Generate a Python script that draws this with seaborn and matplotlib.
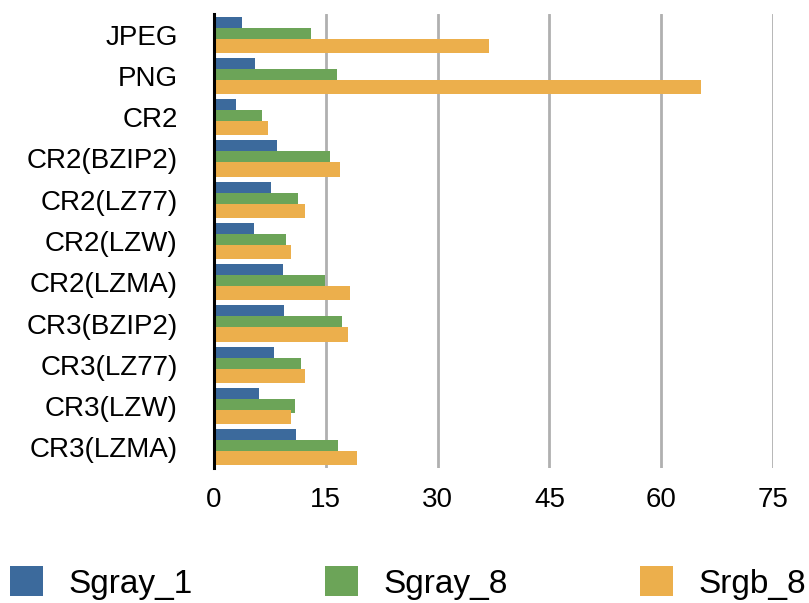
import matplotlib
matplotlib.use("Agg")
import matplotlib.pyplot as plt
import seaborn as sns
import pandas as pd
from matplotlib.patches import Patch

categories = ["JPEG", "PNG", "CR2", "CR2(BZIP2)", "CR2(LZ77)", "CR2(LZW)",
              "CR2(LZMA)", "CR3(BZIP2)", "CR3(LZ77)", "CR3(LZW)", "CR3(LZMA)"]
sgray_1 = [3.7, 5.5, 2.9, 8.4, 7.6, 5.4, 9.3, 9.4, 8.0, 6.1, 11.0]
sgray_8 = [13.0, 16.5, 6.5, 15.6, 11.3, 9.6, 14.9, 17.2, 11.7, 10.9, 16.7]
srgb_8 = [36.9, 65.3, 7.2, 16.9, 12.2, 10.4, 18.3, 18.0, 12.2, 10.4, 19.2]
series_names = ["Sgray_1", "Sgray_8", "Srgb_8"]
colors = ["#3C6A9C", "#6CA458", "#ECAF4C"]
xticks = [0, 15, 30, 45, 60, 75]

rows = []
for name, vals in zip(series_names, [sgray_1, sgray_8, srgb_8]):
    for c, v in zip(categories, vals):
        rows.append({"cat": c, "series": name, "value": v})
df = pd.DataFrame(rows)

sns.set_style("white")
plt.rcParams['font.family'] = ['Liberation Sans', 'DejaVu Sans']
plt.rcParams['text.color'] = 'black'
plt.rcParams['xtick.color'] = 'black'
plt.rcParams['ytick.color'] = 'black'

fig = plt.figure(figsize=(8.09, 6.03), dpi=100)
ax = fig.add_axes([0.2645, 0.2239, 0.691, 0.7529])

sns.barplot(data=df, y="cat", x="value", hue="series", order=categories,
            hue_order=series_names, palette=colors, orient="h", width=0.8,
            ax=ax, legend=False, saturation=1)

# enlarge bars so neighbouring bars overlap slightly
newh = 0.345
for p in ax.patches:
    y, h = p.get_y(), p.get_height()
    p.set_y(y + h / 2 - newh / 2)
    p.set_height(newh)
    p.set_linewidth(0)

ax.set_xlim(0, 75)
ax.set_ylim(10.5, -0.5)
ax.set_xticks(xticks)
ax.set_xticklabels([str(t) for t in xticks], fontsize=20, color="black")
ax.tick_params(axis="x", length=0, pad=14, colors="black")
ax.tick_params(axis="y", length=0, pad=26, labelsize=20, colors="black")
ax.set_xlabel("")
ax.set_ylabel("")
for t in xticks[1:]:
    ax.axvline(t, color="#b0b0b0", linewidth=2.0, zorder=0)
for s in ["top", "right", "bottom"]:
    ax.spines[s].set_visible(False)
ax.spines["left"].set_color("black")
ax.spines["left"].set_linewidth(2.2)
ax.spines["left"].set_zorder(5)

handles = [Patch(facecolor=c, edgecolor="none", label=n) for c, n in zip(colors, series_names)]
leg = fig.legend(handles=handles, loc="center left", bbox_to_anchor=(0.0124, 0.033),
                 ncol=3, frameon=False, fontsize=24, handlelength=1.0, handleheight=1.0,
                 handletextpad=0.76, columnspacing=3.96, borderpad=0, borderaxespad=0)
for t in leg.get_texts():
    t.set_color("black")

fig.savefig("out.png", dpi=100)
